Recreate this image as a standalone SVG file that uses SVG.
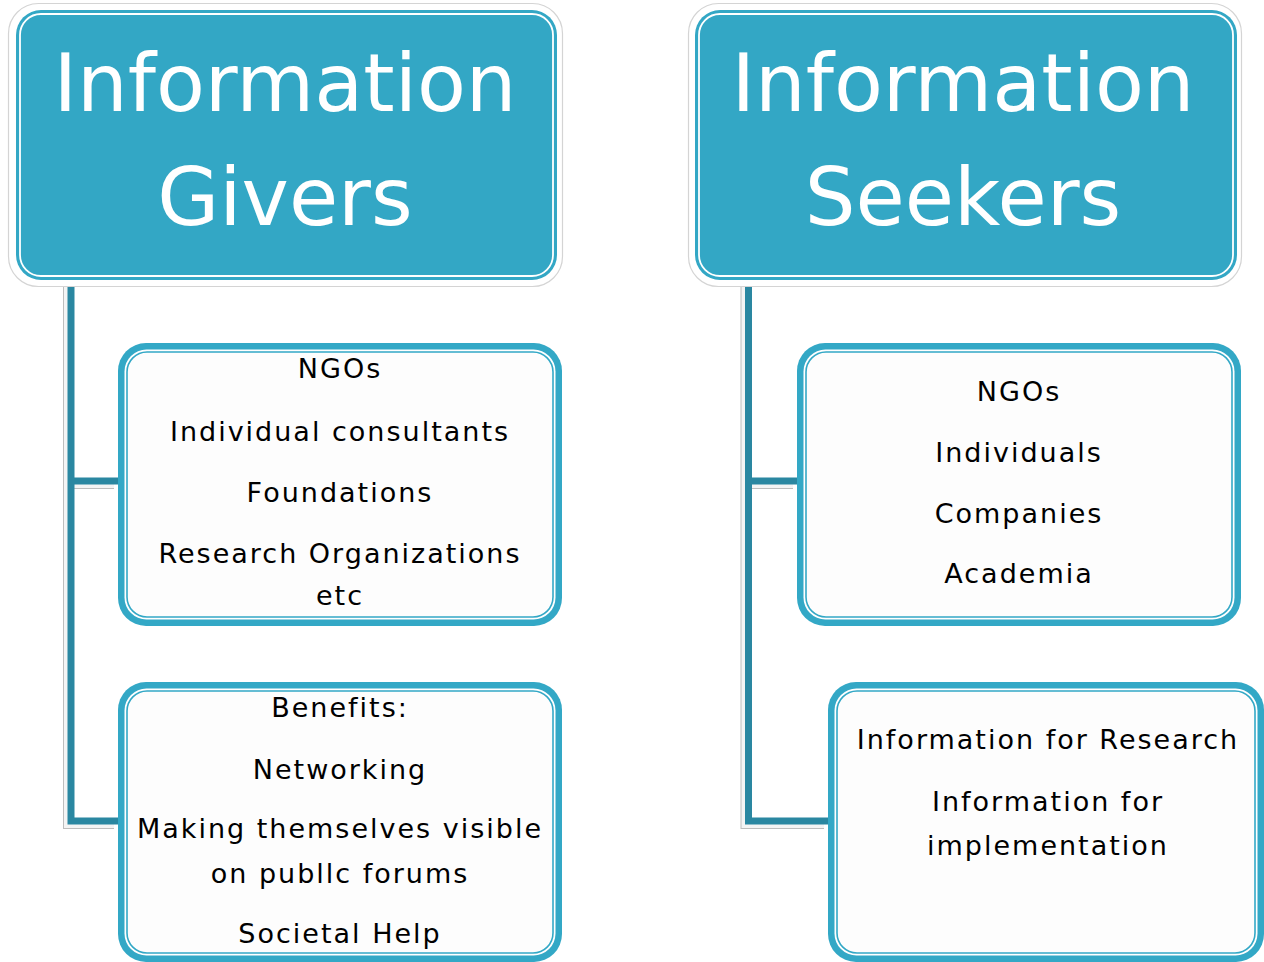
<svg xmlns="http://www.w3.org/2000/svg" width="1264" height="962" viewBox="0 0 1264 962">
<defs>
<style>
.hdrOuter{fill:#ffffff;stroke:#d4d4d4;stroke-width:1.2}
.hdrFill{fill:#33a7c5}
.hdrLine{fill:none;stroke:#ffffff;stroke-width:1.8}
.hdrText{font-family:"DejaVu Sans",Verdana,sans-serif;font-size:80px;fill:#ffffff;text-anchor:middle}
.boxOuter{fill:#33a8c6}
.boxGap{fill:#ffffff}
.boxInner{fill:#fdfdfd;stroke:#33a8c6;stroke-width:1.6}
.txt{font-family:"DejaVu Sans",Verdana,sans-serif;font-size:27px;fill:#000000;text-anchor:middle;letter-spacing:2px}
.conShadow{fill:none;stroke:#bdbdbd;stroke-width:8}
.conLight{fill:none;stroke:#f4f4f4;stroke-width:6}
.conMain{fill:none;stroke:#2a87a1;stroke-width:7}
</style>
</defs>
<rect width="1264" height="962" fill="#ffffff"/>
<g id="connectors">
  <g transform="translate(-4,4)">
    <path class="conShadow" d="M71 280 V481 H118 M71 481 V821 H118"/>
    <path class="conLight" d="M71 280 V481 H118 M71 481 V821 H118"/>
    <path class="conShadow" d="M748.5 280 V481 H797 M748.5 481 V821 H828"/>
    <path class="conLight" d="M748.5 280 V481 H797 M748.5 481 V821 H828"/>
  </g>
  <path class="conMain" d="M71 280 V481 H118 M71 481 V821 H118"/>
  <path class="conMain" d="M748.5 280 V481 H797 M748.5 481 V821 H828"/>
</g>
<g id="giversHeader">
  <rect class="hdrOuter" x="8.5" y="3.5" width="554" height="283" rx="30"/>
  <rect class="hdrFill" x="16" y="10" width="541" height="270" rx="25"/>
  <rect class="hdrLine" x="20" y="14" width="533" height="262" rx="21"/>
  <text class="hdrText" x="285" y="111">Information</text>
  <text class="hdrText" x="285" y="225">Givers</text>
</g>
<g id="seekersHeader">
  <rect class="hdrOuter" x="688.5" y="3.5" width="553" height="283" rx="30"/>
  <rect class="hdrFill" x="695" y="10" width="542" height="270" rx="25"/>
  <rect class="hdrLine" x="699" y="14" width="534" height="262" rx="21"/>
  <text class="hdrText" x="963" y="111">Information</text>
  <text class="hdrText" x="963" y="225">Seekers</text>
</g>
<g id="giversList">
  <rect class="boxOuter" x="118" y="343" width="444" height="283" rx="28"/>
  <rect class="boxGap" x="124.5" y="349.5" width="431" height="270" rx="22"/>
  <rect class="boxInner" x="127" y="352" width="426" height="265" rx="20"/>
  <text class="txt" x="340" y="378">NGOs</text>
  <text class="txt" x="340" y="441">Individual consultants</text>
  <text class="txt" x="340" y="502">Foundations</text>
  <text class="txt" x="340" y="563">Research Organizations</text>
  <text class="txt" x="340" y="605">etc</text>
</g>
<g id="giversBenefits">
  <rect class="boxOuter" x="118" y="682" width="444" height="280" rx="28"/>
  <rect class="boxGap" x="124.5" y="688.5" width="431" height="267" rx="22"/>
  <rect class="boxInner" x="127" y="691" width="426" height="262" rx="20"/>
  <text class="txt" x="340" y="717">Benefits:</text>
  <text class="txt" x="340" y="779">Networking</text>
  <text class="txt" x="340" y="838">Making themselves visible</text>
  <text class="txt" x="340" y="883">on publlc forums</text>
  <text class="txt" x="340" y="943">Societal Help</text>
</g>
<g id="seekersList">
  <rect class="boxOuter" x="797" y="343" width="444" height="283" rx="28"/>
  <rect class="boxGap" x="803.5" y="349.5" width="431" height="270" rx="22"/>
  <rect class="boxInner" x="806" y="352" width="426" height="265" rx="20"/>
  <text class="txt" x="1019" y="401">NGOs</text>
  <text class="txt" x="1019" y="462">Individuals</text>
  <text class="txt" x="1019" y="523">Companies</text>
  <text class="txt" x="1019" y="583">Academia</text>
</g>
<g id="seekersPurpose">
  <rect class="boxOuter" x="828" y="682" width="436" height="280" rx="28"/>
  <rect class="boxGap" x="834.5" y="688.5" width="423" height="267" rx="22"/>
  <rect class="boxInner" x="837" y="691" width="418" height="262" rx="20"/>
  <text class="txt" x="1048" y="749">Information for Research</text>
  <text class="txt" x="1048" y="811">Information for</text>
  <text class="txt" x="1048" y="855">implementation</text>
</g>
</svg>
